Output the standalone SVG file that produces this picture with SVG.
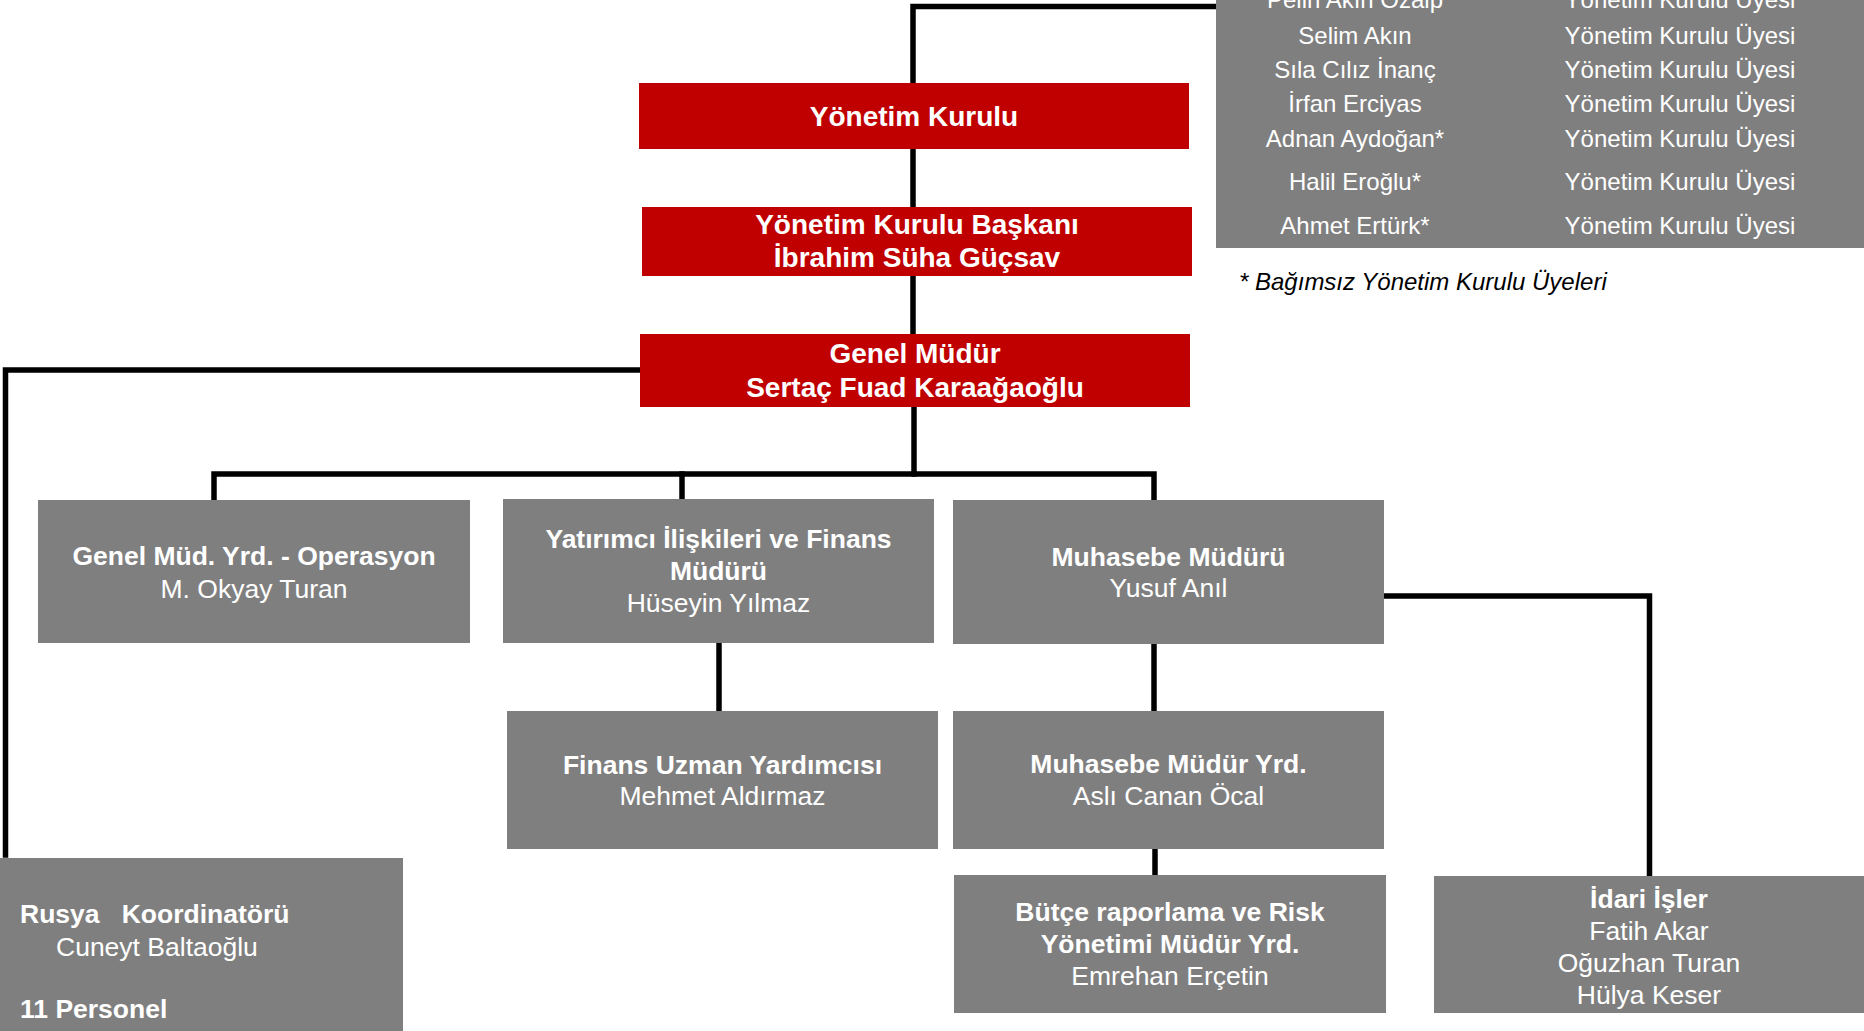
<svg xmlns="http://www.w3.org/2000/svg" width="1864" height="1031" viewBox="0 0 1864 1031">
<style>
text{font-family:"Liberation Sans",Arial,sans-serif;fill:#fff}
.red{fill:#C00000}
.gray{fill:#7F7F7F}
.t28{font-size:28px;font-weight:bold;text-anchor:middle}
.b{font-size:26.5px;font-weight:bold;text-anchor:middle}
.r{font-size:26.5px;text-anchor:middle}
.p{font-size:24px;text-anchor:middle}
.bl{font-size:26.5px;font-weight:bold}
.rl{font-size:26.5px}
.note{font-size:24px;font-style:italic;fill:#000}
.c{stroke:#000;stroke-width:5.5;fill:none;stroke-linecap:square}
</style>
<rect width="1864" height="1031" fill="#fff"/>
<g id="connectors">
<path class="c" d="M1216 6.5 H913 V83"/>
<path class="c" d="M913 149 V207"/>
<path class="c" d="M913 276 V334"/>
<path class="c" d="M640 370 H5.5 V855"/>
<path class="c" d="M914 407 V474"/>
<path class="c" d="M214 500 V474 H1154 V500"/>
<path class="c" d="M682 474 V499"/>
<path class="c" d="M719 643 V711"/>
<path class="c" d="M1154 644 V711"/>
<path class="c" d="M1155 849 V875"/>
<path class="c" d="M1384 596 H1649.5 V876"/>
</g>
<g id="board-panel">
<rect class="gray" x="1216" y="-5" width="660" height="253"/>
<text class="p" x="1355" y="7.5">Pelin Akın Özalp</text>
<text class="p" x="1680" y="7.5">Yönetim Kurulu Üyesi</text>
<text class="p" x="1355" y="43.5">Selim Akın</text>
<text class="p" x="1680" y="43.5">Yönetim Kurulu Üyesi</text>
<text class="p" x="1355" y="77.5">Sıla Cılız İnanç</text>
<text class="p" x="1680" y="77.5">Yönetim Kurulu Üyesi</text>
<text class="p" x="1355" y="112">İrfan Erciyas</text>
<text class="p" x="1680" y="112">Yönetim Kurulu Üyesi</text>
<text class="p" x="1355" y="147">Adnan Aydoğan*</text>
<text class="p" x="1680" y="147">Yönetim Kurulu Üyesi</text>
<text class="p" x="1355" y="189.5">Halil Eroğlu*</text>
<text class="p" x="1680" y="189.5">Yönetim Kurulu Üyesi</text>
<text class="p" x="1355" y="233.5">Ahmet Ertürk*</text>
<text class="p" x="1680" y="233.5">Yönetim Kurulu Üyesi</text>
</g>
<text class="note" x="1239" y="290">* Bağımsız Yönetim Kurulu Üyeleri</text>
<g id="yonetim-kurulu">
<rect class="red" x="639" y="83" width="550" height="66"/>
<text class="t28" x="914" y="126">Yönetim Kurulu</text>
</g>
<g id="baskan">
<rect class="red" x="642" y="207" width="550" height="69"/>
<text class="t28" x="917" y="234">Yönetim Kurulu Başkanı</text>
<text class="t28" x="917" y="267">İbrahim Süha Güçsav</text>
</g>
<g id="genel-mudur">
<rect class="red" x="640" y="334" width="550" height="73"/>
<text class="t28" x="915" y="363">Genel Müdür</text>
<text class="t28" x="915" y="397">Sertaç Fuad Karaağaoğlu</text>
</g>
<g id="operasyon">
<rect class="gray" x="38" y="500" width="432" height="143"/>
<text class="b" x="254" y="565">Genel Müd. Yrd. - Operasyon</text>
<text class="r" x="254" y="598">M. Okyay Turan</text>
</g>
<g id="yatirimci">
<rect class="gray" x="503" y="499" width="431" height="144"/>
<text class="b" x="718.5" y="548">Yatırımcı İlişkileri ve Finans</text>
<text class="b" x="718.5" y="580">Müdürü</text>
<text class="r" x="718.5" y="612">Hüseyin Yılmaz</text>
</g>
<g id="muhasebe">
<rect class="gray" x="953" y="500" width="431" height="144"/>
<text class="b" x="1168.5" y="566">Muhasebe Müdürü</text>
<text class="r" x="1168.5" y="597">Yusuf Anıl</text>
</g>
<g id="finans-uzman">
<rect class="gray" x="507" y="711" width="431" height="138"/>
<text class="b" x="722.5" y="774">Finans Uzman Yardımcısı</text>
<text class="r" x="722.5" y="805">Mehmet Aldırmaz</text>
</g>
<g id="muhasebe-yrd">
<rect class="gray" x="953" y="711" width="431" height="138"/>
<text class="b" x="1168.5" y="773">Muhasebe Müdür Yrd.</text>
<text class="r" x="1168.5" y="805">Aslı Canan Öcal</text>
</g>
<g id="butce">
<rect class="gray" x="954" y="875" width="432" height="138"/>
<text class="b" x="1170" y="921">Bütçe raporlama ve Risk</text>
<text class="b" x="1170" y="953">Yönetimi Müdür Yrd.</text>
<text class="r" x="1170" y="985">Emrehan Erçetin</text>
</g>
<g id="idari">
<rect class="gray" x="1434" y="876" width="440" height="137"/>
<text class="b" x="1649" y="908">İdari İşler</text>
<text class="r" x="1649" y="940">Fatih Akar</text>
<text class="r" x="1649" y="972">Oğuzhan Turan</text>
<text class="r" x="1649" y="1003.5">Hülya Keser</text>
</g>
<g id="rusya">
<rect class="gray" x="-5" y="858" width="408" height="180"/>
<text class="bl" x="20" y="923" xml:space="preserve">Rusya   Koordinatörü</text>
<text class="rl" x="56" y="956">Cuneyt Baltaoğlu</text>
<text class="bl" x="20" y="1018">11 Personel</text>
</g>
</svg>
